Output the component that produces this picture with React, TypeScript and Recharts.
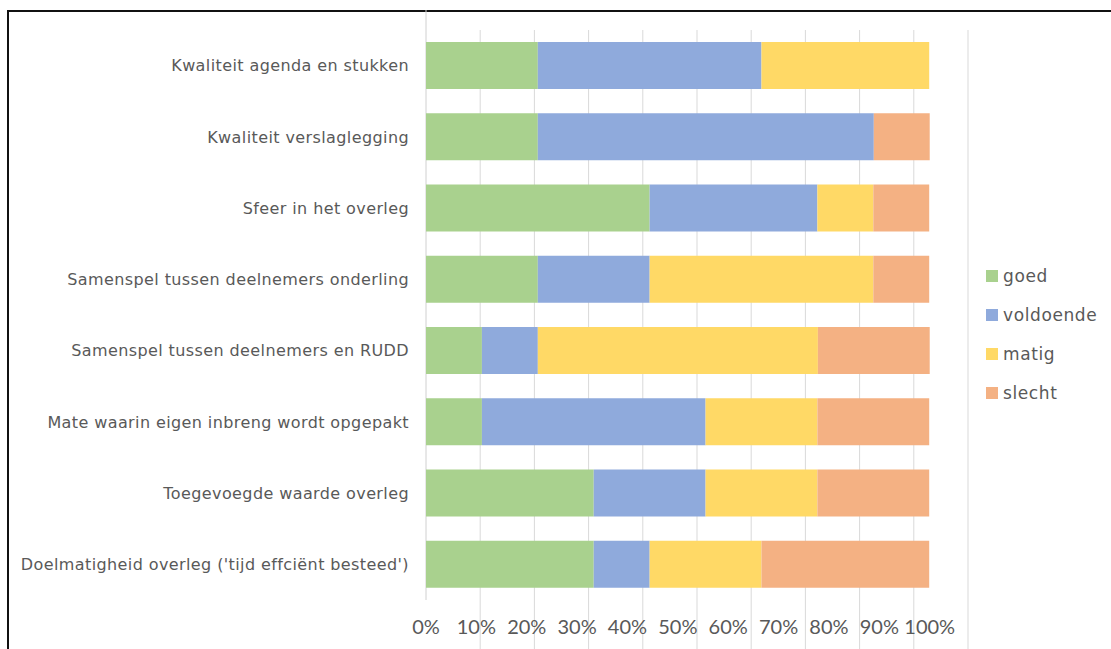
import React from 'react';
import { BarChart, Bar, XAxis, YAxis, CartesianGrid, Legend } from 'recharts';

const categories = [
  'Kwaliteit agenda en stukken',
  'Kwaliteit verslaglegging',
  'Sfeer in het overleg',
  'Samenspel tussen deelnemers onderling',
  'Samenspel tussen deelnemers en RUDD',
  'Mate waarin eigen inbreng wordt opgepakt',
  'Toegevoegde waarde overleg',
  "Doelmatigheid overleg ('tijd effciënt besteed')",
];

const goed = [22.2, 22.2, 44.4, 22.2, 11.1, 11.1, 33.3, 33.3];
const voldoende = [44.4, 66.7, 33.3, 22.2, 11.1, 44.4, 22.2, 11.1];
const matig = [33.3, 0, 11.1, 44.4, 55.6, 22.2, 22.2, 22.2];
const slecht = [0, 11.1, 11.1, 11.1, 22.2, 22.2, 22.2, 33.3];

const seriesNames = ['goed', 'voldoende', 'matig', 'slecht'];
const seriesColors = ['#A9D18E', '#8FAADC', '#FFD966', '#F4B183'];
const tickValues = [0, 10, 20, 30, 40, 50, 60, 70, 80, 90, 100];
const gridTicks = [0, 10, 20, 30, 40, 50, 60, 70, 80, 90, 100];

const data = categories.map((name, i) => ({
  name,
  goed: goed[i],
  voldoende: voldoende[i],
  matig: matig[i],
  slecht: slecht[i],
}));

const LABEL_FONT = '"DejaVu Sans", Verdana, sans-serif';
const TICK_FONT = 'Lato, "Open Sans", sans-serif';
const TEXT = '#595959';

const renderLegend = () => (
  <div style={{ fontFamily: LABEL_FONT }}>
    {seriesNames.map((n, i) => (
      <div key={n} style={{ display: 'flex', alignItems: 'center', height: 39 }}>
        <span style={{ display: 'inline-block', width: 12, height: 12, background: seriesColors[i], marginRight: 5 }} />
        <span style={{ fontSize: 17, color: TEXT, letterSpacing: 0.6, lineHeight: '20px' }}>{n}</span>
      </div>
    ))}
  </div>
);

const gridLine = (props: any) => {
  const { x1, y1, x2, y2, index, stroke } = props;
  if (index === 0) {
    return <line key={`g-${index}`} x1={x1} x2={x2} y1={y1 - 20} y2={y2} stroke="#d0d0d0" strokeWidth={1} />;
  }
  return <line key={`g-${index}`} x1={x1} x2={x2} y1={y1} y2={y2 + 49} stroke={stroke || '#d9d9d9'} strokeWidth={1} />;
};

// grid lines: 10% steps of the gridline axis (domain 0-100 over the full plot width)
const gridCoords = ({ xAxis, offset }: any) =>
  gridTicks.map((v) => {
    const s = xAxis && typeof xAxis.scale === 'function' ? xAxis.scale(v) : NaN;
    return Number.isFinite(s) ? s : offset.left + (offset.width * v) / 100;
  });

export default function App() {
  return (
    <div style={{ position: 'absolute', left: 0, top: 0, width: 1111, height: 649, overflow: 'hidden', background: '#fff' }}>
      <div style={{ position: 'absolute', left: 7, top: 10, width: 1200, height: 800, borderLeft: '2px solid #111', borderTop: '2px solid #111', boxSizing: 'border-box' }} />
      <div style={{ position: 'absolute', left: 0, top: 0 }}>
        <BarChart
          width={1111}
          height={649}
          data={data}
          layout="vertical"
          barSize={47}
          margin={{ top: 30, right: 143, bottom: 9, left: 0 }}
        >
          <CartesianGrid
            xAxisId="grid"
            horizontal={false}
            vertical={gridLine}
            verticalCoordinatesGenerator={gridCoords}
            stroke="#d9d9d9"
          />
          <XAxis
            xAxisId="grid"
            type="number"
            domain={[0, 100]}
            ticks={gridTicks}
            interval={0}
            tick={false}
            axisLine={false}
            tickLine={false}
            height={0}
            allowDataOverflow
          />
          <XAxis
            xAxisId="bars"
            type="number"
            domain={[0, 107.6]}
            ticks={tickValues}
            tickFormatter={(v: number) => `${v}%`}
            axisLine={false}
            tickLine={false}
            tickSize={0}
            tickMargin={20}
            height={40}
            tick={{ fill: TEXT, fontSize: 20, fontFamily: TICK_FONT }}
            interval={0}
            allowDataOverflow
          />
          <YAxis
            type="category"
            dataKey="name"
            width={426}
            axisLine={false}
            tickLine={false}
            tickSize={0}
            tickMargin={17}
            interval={0}
            tick={{ fill: TEXT, fontSize: 16, fontFamily: LABEL_FONT, letterSpacing: 0.4 }}
          />
          <Legend
            layout="vertical"
            align="center"
            verticalAlign="middle"
            content={renderLegend}
            wrapperStyle={{ left: 986, top: 256, width: 130 }}
          />
          {seriesNames.map((n, i) => (
            <Bar key={n} dataKey={n} name={n} stackId="a" xAxisId="bars" fill={seriesColors[i]} isAnimationActive={false} />
          ))}
        </BarChart>
      </div>
    </div>
  );
}
